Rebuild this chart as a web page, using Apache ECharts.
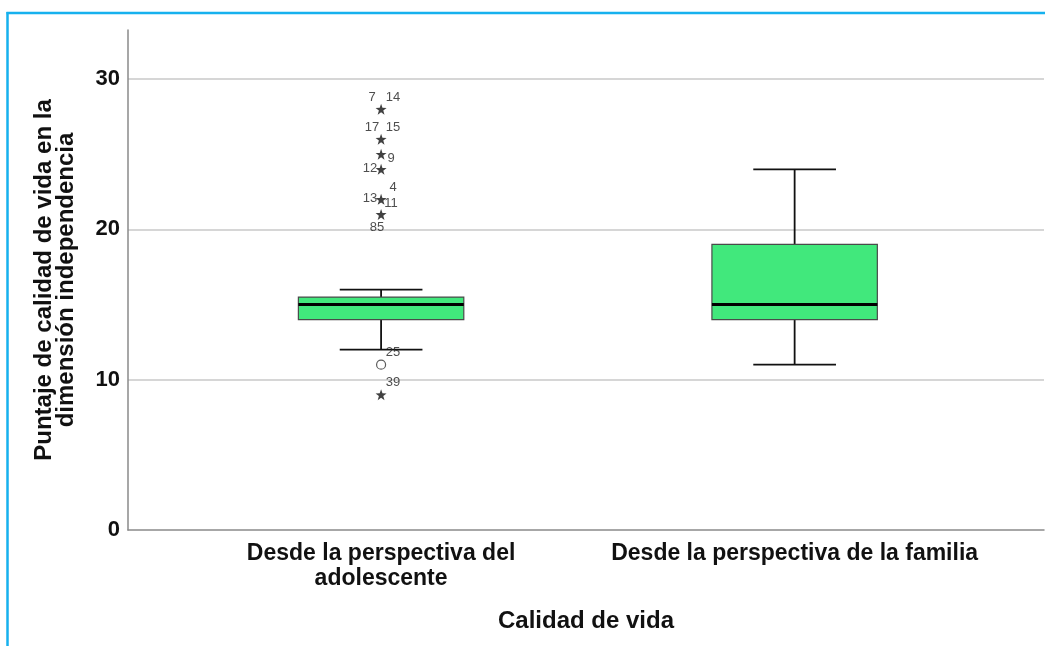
<!DOCTYPE html>
<html>
<head>
<meta charset="utf-8">
<script src="https://cdn.jsdelivr.net/npm/echarts@6/dist/echarts.min.js"></script>
<style>
  html, body { margin: 0; padding: 0; background: #ffffff; }
  #chart { width: 1045px; height: 646px; }
</style>
</head>
<body>
<div id="chart"></div>
<script>
// Groups compared on the horizontal axis
const categories = ['Desde la perspectiva del\nadolescente', 'Desde la perspectiva de la familia'];

// Box statistics per group: [lower whisker, Q1, median, Q3, upper whisker]
const boxStats = [
  [12, 14, 15, 15.5, 16],
  [11, 14, 15, 19, 24]
];

// Outliers of the first group
const extremeValues = [28, 26, 25, 24, 22, 21, 9];   // drawn as stars
const mildValues = [11];                             // drawn as open circles

// Case numbers printed next to the outliers: [value, case label, placement]
const caseLabels = [
  [28, '7', 'ul'], [28, '14', 'ur'],
  [26, '17', 'ul'], [26, '15', 'ur'],
  [25, '9', 'r'],
  [24, '12', 'l'],
  [22, '13', 'l'], [22, '11', 'r'], [22, '4', 'ur'],
  [21, '85', 'b'],
  [11, '25', 'ur'],
  [9, '39', 'ur']
];

// Y axis ticks
const yTicks = [0, 10, 20, 30];

const FONT = 'Liberation Sans, Arial, Helvetica, sans-serif';
const BOX_W = 0.4;     // box width in category units
const CAP_W = 0.2;     // whisker cap width in category units
const GREEN = '#41e87c';

// text offsets (px) for each label placement around a marker
const placeOffset = {
  ul: [-9, -12], ur: [12, -12], l: [-11, -1], r: [10, 4], b: [-4, 13]
};

const chart = echarts.init(document.getElementById('chart'), null, { renderer: 'canvas' });

const boxData = boxStats.map((s, i) => [i + 1].concat(s));
const starData = extremeValues.map(v => [1, v]);
const circleData = mildValues.map(v => [1, v]);
const labelData = caseLabels.map(([v, txt, pos]) => ({
  value: [1, v],
  label: { formatter: txt, offset: placeOffset[pos] }
}));

const STAR = 'path://M0,-10L2.35,-3.24L9.51,-3.09L3.8,1.24L5.88,8.09L0,4L-5.88,8.09L-3.8,1.24L-9.51,-3.09L-2.35,-3.24Z';

const option = {
  backgroundColor: '#ffffff',
  animation: false,
  textStyle: { fontFamily: FONT },
  grid: { left: 128, right: 1, top: 30, bottom: 116, outerBoundsMode: 'none' },
  graphic: [
    { type: 'line', shape: { x1: 7.5, y1: 12, x2: 7.5, y2: 646 }, style: { stroke: '#16b1ee', lineWidth: 2.5 }, silent: true },
    { type: 'line', shape: { x1: 6.5, y1: 13, x2: 1045, y2: 13 }, style: { stroke: '#16b1ee', lineWidth: 2.5 }, silent: true }
  ],
  xAxis: {
    type: 'value',
    min: 0.388,
    max: 2.603,
    name: 'Calidad de vida',
    nameLocation: 'middle',
    nameGap: 79,
    nameTextStyle: { fontFamily: FONT, fontSize: 24, fontWeight: 'bold', color: '#111' },
    axisLine: { show: true, onZero: false, lineStyle: { color: '#8a8a8a', width: 1.5 } },
    axisTick: { show: false },
    splitLine: { show: false },
    axisLabel: {
      customValues: [1, 2],
      formatter: v => categories[Math.round(v) - 1],
      margin: 11,
      fontFamily: FONT,
      fontSize: 23,
      fontWeight: 'bold',
      lineHeight: 25,
      color: '#111'
    }
  },
  yAxis: {
    type: 'value',
    min: yTicks[0],
    max: 33.27,
    interval: 10,
    name: 'Puntaje de calidad de vida en la\ndimensión independencia',
    nameLocation: 'middle',
    nameGap: 51,
    nameTextStyle: { fontFamily: FONT, fontSize: 24, fontWeight: 'bold', color: '#111', lineHeight: 22, align: 'center' },
    axisLine: { show: true, lineStyle: { color: '#8a8a8a', width: 1.5 } },
    axisTick: { show: false },
    axisLabel: {
      showMaxLabel: false,
      margin: 8,
      fontFamily: FONT,
      fontSize: 22,
      fontWeight: 'bold',
      color: '#111',
      formatter: v => (yTicks.indexOf(v) >= 0 ? String(v) : '')
    },
    splitLine: { show: true, showMinLine: false, showMaxLine: false, lineStyle: { color: '#c9c9c9', width: 1.5 } }
  },
  series: [
    {
      type: 'custom',
      name: 'box',
      data: boxData,
      encode: { x: 0, y: [1, 2, 3, 4, 5] },
      renderItem: function (params, api) {
        const x = api.value(0);
        const lo = api.coord([x, api.value(1)]);
        const q1 = api.coord([x, api.value(2)]);
        const med = api.coord([x, api.value(3)]);
        const q3 = api.coord([x, api.value(4)]);
        const hi = api.coord([x, api.value(5)]);
        const hb = api.size([BOX_W, 0])[0] / 2;
        const hc = api.size([CAP_W, 0])[0] / 2;
        const cx = lo[0];
        const whisker = { stroke: '#111', lineWidth: 1.8 };
        return {
          type: 'group',
          children: [
            { type: 'line', shape: { x1: cx, y1: hi[1], x2: cx, y2: q3[1] }, style: whisker },
            { type: 'line', shape: { x1: cx, y1: q1[1], x2: cx, y2: lo[1] }, style: whisker },
            { type: 'line', shape: { x1: cx - hc, y1: hi[1], x2: cx + hc, y2: hi[1] }, style: whisker },
            { type: 'line', shape: { x1: cx - hc, y1: lo[1], x2: cx + hc, y2: lo[1] }, style: whisker },
            { type: 'rect', shape: { x: cx - hb, y: q3[1], width: hb * 2, height: q1[1] - q3[1] },
              style: { fill: GREEN, stroke: '#4a4a4a', lineWidth: 1.2 } },
            { type: 'line', shape: { x1: cx - hb, y1: med[1], x2: cx + hb, y2: med[1] },
              style: { stroke: '#000', lineWidth: 3 } }
          ]
        };
      },
      z: 3
    },
    {
      type: 'scatter',
      name: 'extremos',
      data: starData,
      symbol: STAR,
      symbolSize: [11, 11],
      itemStyle: { color: '#111' },
      z: 4
    },
    {
      type: 'scatter',
      name: 'atipicos',
      data: circleData,
      symbol: 'circle',
      symbolSize: 9,
      itemStyle: { color: '#ffffff', borderColor: '#333', borderWidth: 1.2 },
      z: 4
    },
    {
      type: 'scatter',
      name: 'casos',
      data: labelData,
      symbolSize: 0,
      silent: true,
      label: {
        show: true,
        position: 'inside',
        fontFamily: FONT,
        fontSize: 13,
        color: '#222'
      },
      z: 5
    }
  ]
};

chart.setOption(option);
</script>
</body>
</html>
